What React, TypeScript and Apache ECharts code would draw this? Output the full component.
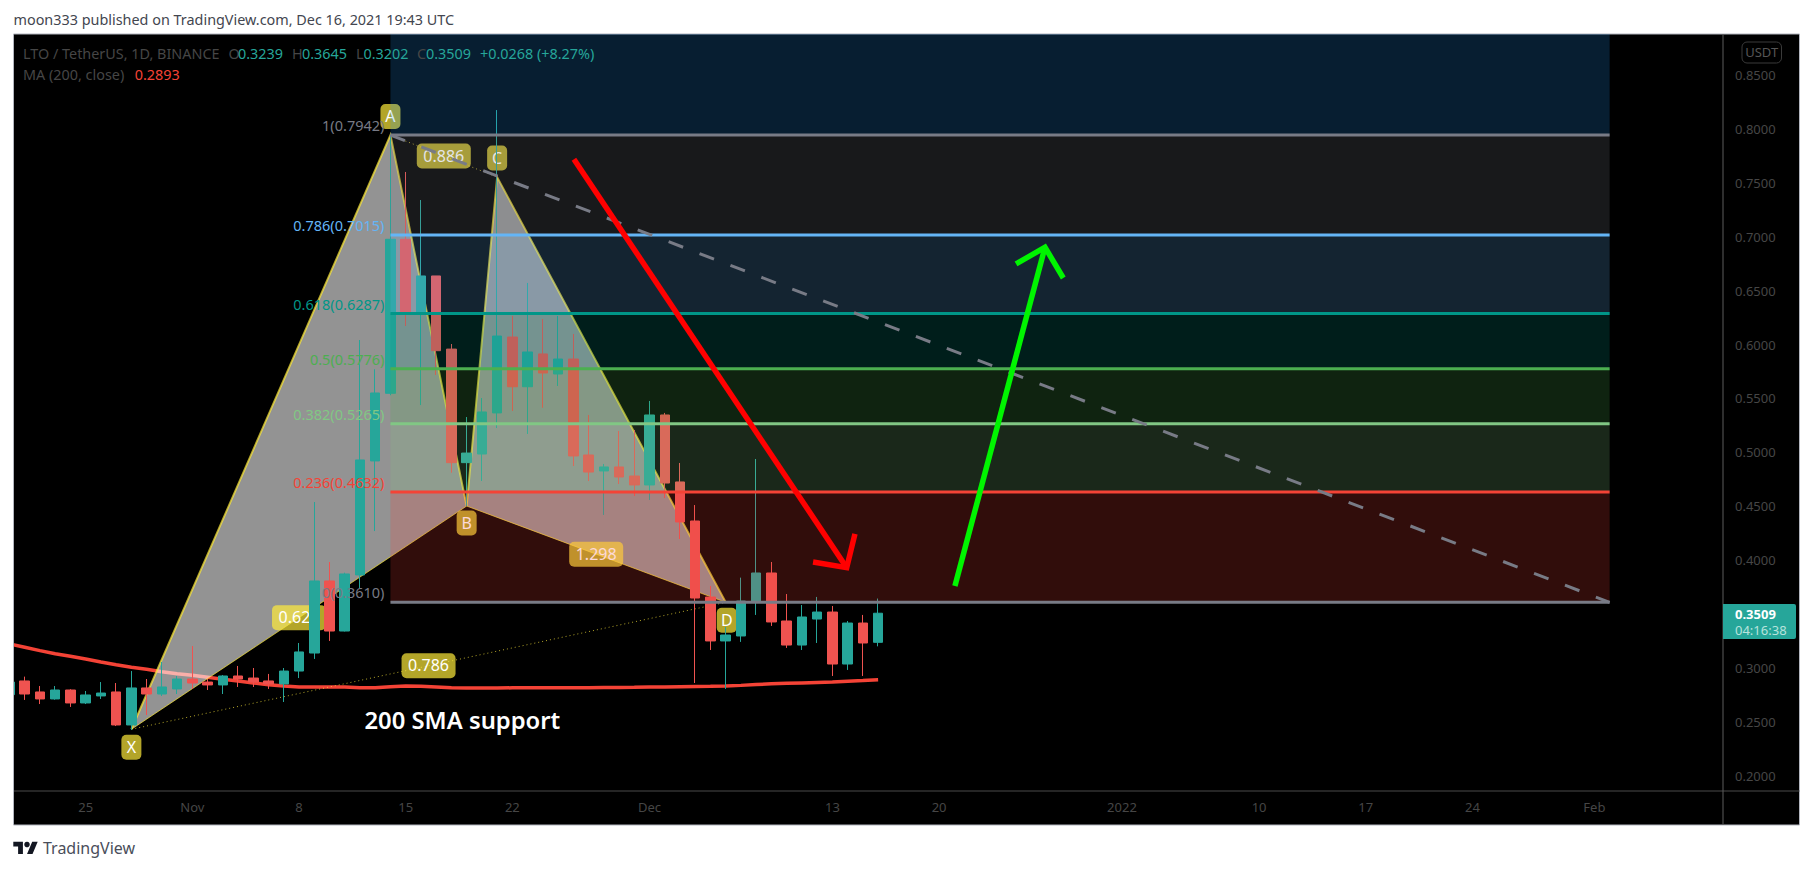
import React, { useEffect, useRef } from "react";
import * as echarts from "echarts";

// Day index 0 = 20 Oct 2021, one candle per day through 16 Dec 2021
const OPEN = [
  0.2754, 0.2881, 0.2779, 0.2714, 0.2797, 0.2677, 0.2742, 0.2779, 0.2473, 0.2816,
  0.2760, 0.2807, 0.2899, 0.2871, 0.2844, 0.2927, 0.2908, 0.2881, 0.2853, 0.2973,
  0.3140, 0.3808, 0.3344, 0.3864, 0.4921, 0.5548, 0.6976, 0.6290, 0.6636, 0.5958,
  0.4905, 0.4985, 0.5366, 0.6070, 0.5609, 0.5913, 0.5727, 0.5866, 0.4976, 0.4828,
  0.4865, 0.4781, 0.4698, 0.5347, 0.4726, 0.4364, 0.3659, 0.3252, 0.3298, 0.3613,
  0.3882, 0.3437, 0.3214, 0.3455, 0.3520, 0.3038, 0.3418, 0.3239,
];
const HIGH = [
  0.2908, 0.2921, 0.2834, 0.2834, 0.2804, 0.2788, 0.2871, 0.2862, 0.2973, 0.2899,
  0.3057, 0.2927, 0.3205, 0.2899, 0.2936, 0.3020, 0.3001, 0.2946, 0.3001, 0.3233,
  0.4540, 0.3984, 0.3885, 0.6042, 0.5771, 0.7943, 0.7600, 0.7340, 0.6636, 0.6005,
  0.5328, 0.5504, 0.8174, 0.6265, 0.6571, 0.6237, 0.6265, 0.6098, 0.5347, 0.4893,
  0.5199, 0.5208, 0.5477, 0.5366, 0.4902, 0.4512, 0.3762, 0.3381, 0.3839, 0.4939,
  0.3984, 0.3687, 0.3585, 0.3660, 0.3576, 0.3437, 0.3493, 0.3645,
];
const LOW = [
  0.2732, 0.2705, 0.2667, 0.2707, 0.2640, 0.2667, 0.2714, 0.2463, 0.2426, 0.2565,
  0.2742, 0.2760, 0.2807, 0.2797, 0.2760, 0.2825, 0.2825, 0.2807, 0.2686, 0.2908,
  0.3085, 0.3252, 0.3340, 0.3743, 0.4271, 0.5530, 0.6172, 0.5439, 0.5718, 0.4812,
  0.4503, 0.4735, 0.5226, 0.5384, 0.5171, 0.5414, 0.5616, 0.4874, 0.4735, 0.4420,
  0.4707, 0.4596, 0.4559, 0.4577, 0.4197, 0.2862, 0.3168, 0.2807, 0.3243, 0.3493,
  0.3391, 0.3187, 0.3168, 0.3233, 0.2927, 0.2983, 0.2927, 0.3202,
];
const CLOSE = [
  0.2871, 0.2760, 0.2714, 0.2797, 0.2677, 0.2751, 0.2769, 0.2473, 0.2816, 0.2760,
  0.2825, 0.2899, 0.2862, 0.2844, 0.2927, 0.2899, 0.2871, 0.2853, 0.2973, 0.3150,
  0.3808, 0.3344, 0.3873, 0.4930, 0.5551, 0.6976, 0.6290, 0.6636, 0.5943, 0.4905,
  0.4994, 0.5375, 0.6079, 0.5609, 0.5931, 0.5736, 0.5866, 0.4967, 0.4818, 0.4865,
  0.4772, 0.4698, 0.5347, 0.4716, 0.4355, 0.3650, 0.3252, 0.3307, 0.3622, 0.3882,
  0.3428, 0.3214, 0.3474, 0.3520, 0.3038, 0.3418, 0.3233, 0.3509,
];
const MA200 = [
  0.3224, 0.3193, 0.3162, 0.3134, 0.3110, 0.3085, 0.3057, 0.3032, 0.3008, 0.2989,
  0.2967, 0.2948, 0.2933, 0.2915, 0.2896, 0.2881, 0.2862, 0.2846, 0.2834, 0.2825,
  0.2825, 0.2825, 0.2825, 0.2818, 0.2818, 0.2828, 0.2834, 0.2831, 0.2825, 0.2818,
  0.2816, 0.2816, 0.2816, 0.2817, 0.2817, 0.2817, 0.2818, 0.2818, 0.2819, 0.2820,
  0.2821, 0.2822, 0.2824, 0.2825, 0.2827, 0.2829, 0.2831, 0.2834, 0.2840, 0.2848,
  0.2854, 0.2859, 0.2863, 0.2867, 0.2871, 0.2878, 0.2885, 0.2893,
];

const X_TICK_DAYS = [5, 12, 19, 26, 33, 42, 54, 61, 73, 82, 89, 96, 104];
const X_TICK_LABELS = ["25", "Nov", "8", "15", "22", "Dec", "13", "20", "2022", "10", "17", "24", "Feb"];
const Y_TICKS = [0.2, 0.25, 0.3, 0.4, 0.45, 0.5, 0.55, 0.6, 0.65, 0.7, 0.75, 0.8, 0.85];

const FIB_RATIOS = ["0", "0.236", "0.382", "0.5", "0.618", "0.786", "1"];
const FIB_PRICES = [0.361, 0.4632, 0.5265, 0.5776, 0.6287, 0.7015, 0.7942];
const FIB_TOP_PRICE = 1.0619;
const FIB_START_DAY = 25;
const FIB_END_DAY = 105;

const POINT_NAMES = ["X", "A", "B", "C", "D"];
const POINT_DAYS = [8, 25, 30, 32, 47];
const POINT_PRICES = [0.2433, 0.7942, 0.4503, 0.7553, 0.361];
const RATIO_LABELS = ["0.624", "0.886", "1.298", "0.786"];

const RED_ARROW = [[37.04, 0.7718], [54.94, 0.3931]];
const RED_HEAD = [[52.73, 0.3984], [54.94, 0.3931], [55.48, 0.4244]];
const GREEN_ARROW = [[62.04, 0.3761], [67.95, 0.6902]];
const GREEN_HEAD = [[66.05, 0.6747], [67.95, 0.6902], [69.15, 0.6617]];

const X_MIN = 0.265;
const X_MAX = 112.44;
const Y_MIN = 0.18607;
const Y_MAX = 0.88793;

const FONT = "'Noto Sans', sans-serif";
const UP = "#26a69a";
const DOWN = "#ef5350";
const GOLD = "rgba(255,235,59,0.7)";
const PATTERN_FILL = "rgba(255,255,255,0.575)";
const FIB_COLORS = ["#787b86", "#f44336", "#81c784", "#4caf50", "#009688", "#64b5f6", "#787b86"];
const FIB_FILLS = ["#f44336", "#81c784", "#4caf50", "#009688", "#64b5f6", "#787b86", "#2196f3"];
const TEXT_DIM = "#464646";

const LOGO_PATH = "M14 22H7V11H0V4h14v18zM28 22h-8l7.5-18h8L28 22z";

function pt(i: number) {
  return [POINT_DAYS[i], POINT_PRICES[i]];
}

function single(renderItem: any, z: number, name: string) {
  return {
    type: "custom",
    name,
    z,
    clip: true,
    silent: true,
    data: [[X_MIN, Y_MIN]],
    renderItem,
  };
}

function badge(cx: number, cy: number, w: number, text: string) {
  const h = 25;
  return [
    {
      type: "rect",
      shape: { x: cx - w / 2, y: cy - h / 2, width: w, height: h, r: 5 },
      style: { fill: GOLD },
    },
    {
      type: "text",
      style: {
        x: cx,
        y: cy - 0.5,
        text,
        fill: "#ffffff",
        font: `16px ${FONT}`,
        align: "center",
        verticalAlign: "middle",
      },
    },
  ];
}

const renderPattern = (_: any, api: any) => {
  const c = (v: number[]) => api.coord(v);
  const [X, A, B, C, D] = [0, 1, 2, 3, 4].map((i) => c(pt(i)));
  const children: any[] = [];
  children.push({ type: "polygon", shape: { points: [X, A, B] }, style: { fill: PATTERN_FILL } });
  children.push({ type: "polygon", shape: { points: [B, C, D] }, style: { fill: PATTERN_FILL } });
  children.push({
    type: "polyline",
    shape: { points: [X, A, B, C, D] },
    style: { stroke: GOLD, lineWidth: 2, fill: "none" },
  });
  children.push({ type: "line", shape: { x1: X[0], y1: X[1], x2: B[0], y2: B[1] }, style: { stroke: GOLD, lineWidth: 1 } });
  children.push({ type: "line", shape: { x1: B[0], y1: B[1], x2: D[0], y2: D[1] }, style: { stroke: GOLD, lineWidth: 1 } });
  children.push({ type: "line", shape: { x1: X[0], y1: X[1], x2: D[0], y2: D[1] }, style: { stroke: GOLD, lineWidth: 1, lineDash: [1, 3] } });
  children.push({ type: "line", shape: { x1: A[0], y1: A[1], x2: C[0], y2: C[1] }, style: { stroke: GOLD, lineWidth: 1, lineDash: [1, 3] } });
  const mid = (p: number[], q: number[]) => [(p[0] + q[0]) / 2, (p[1] + q[1]) / 2];
  const mXB = mid(X, B);
  const mAC = mid(A, C);
  const mBD = mid(B, D);
  const mXD = mid(X, D);
  children.push(...badge(mXB[0], mXB[1], 54, RATIO_LABELS[0]));
  children.push(...badge(mAC[0], mAC[1], 54, RATIO_LABELS[1]));
  children.push(...badge(mBD[0], mBD[1], 54, RATIO_LABELS[2]));
  children.push(...badge(mXD[0], mXD[1], 54, RATIO_LABELS[3]));
  children.push(...badge(X[0], X[1] + 18, 20, POINT_NAMES[0]));
  children.push(...badge(A[0], A[1] - 18.6, 20, POINT_NAMES[1]));
  children.push(...badge(B[0], B[1] + 17, 20, POINT_NAMES[2]));
  children.push(...badge(C[0], C[1] - 19, 20, POINT_NAMES[3]));
  children.push(...badge(D[0] + 1, D[1] + 18, 20, POINT_NAMES[4]));
  return { type: "group", children };
};

const renderFibZones = (_: any, api: any) => {
  const children: any[] = [];
  const tops = [...FIB_PRICES.slice(1), FIB_TOP_PRICE];
  FIB_PRICES.forEach((low, i) => {
    const a = api.coord([FIB_START_DAY, tops[i]]);
    const b = api.coord([FIB_END_DAY, low]);
    children.push({
      type: "rect",
      shape: { x: a[0], y: a[1], width: b[0] - a[0], height: b[1] - a[1] },
      style: { fill: FIB_FILLS[i], opacity: 0.2 },
    });
  });
  return { type: "group", children };
};

const renderFibLines = (_: any, api: any) => {
  const children: any[] = [];
  FIB_PRICES.forEach((p, i) => {
    const a = api.coord([FIB_START_DAY, p]);
    const b = api.coord([FIB_END_DAY, p]);
    children.push({
      type: "line",
      shape: { x1: a[0], y1: a[1], x2: b[0], y2: b[1] },
      style: { stroke: FIB_COLORS[i], lineWidth: 3 },
    });
    children.push({
      type: "text",
      style: {
        x: a[0] - 6,
        y: a[1] - 10,
        text: `${FIB_RATIOS[i]}(${p.toFixed(4)})`,
        fill: FIB_COLORS[i],
        font: `14.5px ${FONT}`,
        align: "right",
        verticalAlign: "middle",
      },
    });
  });
  const s = api.coord(pt(1));
  const e = api.coord([FIB_END_DAY, FIB_PRICES[0]]);
  children.push({
    type: "line",
    shape: { x1: s[0], y1: s[1], x2: e[0], y2: e[1] },
    style: { stroke: "#787b86", lineWidth: 3, lineDash: [15.5, 17.6] },
  });
  return { type: "group", children };
};

const renderArrows = (_: any, api: any) => {
  const line = (pts: number[][], stroke: string) => ({
    type: "polyline",
    shape: { points: pts.map((p) => api.coord(p)) },
    style: { stroke, lineWidth: 5.5, fill: "none", lineJoin: "miter" },
  });
  return {
    type: "group",
    children: [
      line(RED_ARROW, "#ff0000"),
      line(RED_HEAD, "#ff0000"),
      line(GREEN_ARROW, "#00f500"),
      line(GREEN_HEAD, "#00f500"),
    ],
  };
};

function txt(x: number, y: number, text: string, fill: string, font: string, align = "left", z = 20) {
  return { type: "text", x, y, z, silent: true, style: { text, fill, font, align, verticalAlign: "middle" } };
}

function buildOption() {
  const dataCandle = OPEN.map((o, i) => [i, o, CLOSE[i], LOW[i], HIGH[i]]);
  const dataMa = MA200.map((v, i) => [i, v]);
  const legendFont = `14.4px ${FONT}`;
  const axisFont = `13px ${FONT}`;
  return {
    animation: false,
    backgroundColor: "#ffffff",
    grid: { left: 13.5, top: 34, width: 1709.5, height: 757, containLabel: false },
    xAxis: {
      type: "value",
      min: X_MIN,
      max: X_MAX,
      scale: true,
      axisLine: { show: false },
      axisTick: { show: false },
      splitLine: { show: false },
      axisLabel: {
        customValues: X_TICK_DAYS,
        formatter: (v: number) => X_TICK_LABELS[X_TICK_DAYS.indexOf(v)] ?? "",
        color: TEXT_DIM,
        fontFamily: FONT,
        fontSize: 13,
        margin: 9,
        hideOverlap: false,
      },
    },
    yAxis: {
      type: "value",
      position: "right",
      min: Y_MIN,
      max: Y_MAX,
      scale: true,
      axisLine: { show: false },
      axisTick: { show: false },
      splitLine: { show: false },
      axisLabel: {
        customValues: Y_TICKS,
        formatter: (v: number) => v.toFixed(4),
        color: TEXT_DIM,
        fontFamily: FONT,
        fontSize: 13,
        margin: 12,
        align: "left",
        padding: [0, 0, 2, 0],
        hideOverlap: false,
      },
    },
    graphic: {
      elements: [
        { type: "rect", z: -5, silent: true, shape: { x: 13.5, y: 34, width: 1786, height: 791 }, style: { fill: "#000000", stroke: "#b2b5be", lineWidth: 1 } },
        { type: "rect", z: 15, silent: true, shape: { x: 0, y: 34, width: 13, height: 791 }, style: { fill: "#ffffff" } },
        { type: "line", z: 16, silent: true, shape: { x1: 13.5, y1: 34, x2: 13.5, y2: 825 }, style: { stroke: "#b2b5be", lineWidth: 1 } },
        { type: "line", z: 1, silent: true, shape: { x1: 13.5, y1: 791, x2: 1799.5, y2: 791 }, style: { stroke: "#4a4a4a", lineWidth: 1 } },
        { type: "line", z: 1, silent: true, shape: { x1: 1723, y1: 34, x2: 1723, y2: 825 }, style: { stroke: "#5d5d5d", lineWidth: 1 } },
        txt(13.5, 19, "moon333 published on TradingView.com, Dec 16, 2021 19:43 UTC", "#43464f", legendFont),
        txt(23, 53, "LTO / TetherUS, 1D, BINANCE", TEXT_DIM, legendFont),
        txt(228.5, 53, "O", TEXT_DIM, legendFont),
        txt(238, 53, "0.3239", UP, legendFont),
        txt(292, 53, "H", TEXT_DIM, legendFont),
        txt(302, 53, "0.3645", UP, legendFont),
        txt(356, 53, "L", TEXT_DIM, legendFont),
        txt(363.5, 53, "0.3202", UP, legendFont),
        txt(417, 53, "C", TEXT_DIM, legendFont),
        txt(426, 53, "0.3509", UP, legendFont),
        txt(480, 53, "+0.0268 (+8.27%)", UP, legendFont),
        txt(23, 74, "MA (200, close)", TEXT_DIM, legendFont),
        txt(134.7, 74, "0.2893", "#f44336", legendFont),
        { type: "rect", z: 20, silent: true, shape: { x: 1742, y: 42, width: 39.5, height: 21, r: 5 }, style: { fill: "#000000", stroke: "#3a3a3a", lineWidth: 1 } },
        txt(1761.7, 52, "USDT", "#565656", axisFont, "center"),
        { type: "rect", z: 20, silent: true, shape: { x: 1723, y: 604, width: 73, height: 35, r: [0, 2, 2, 0] }, style: { fill: UP } },
        txt(1735, 613.5, "0.3509", "#ffffff", `700 13px ${FONT}`),
        txt(1735, 629.5, "04:16:38", "#b8e3dd", axisFont),
        txt(364.5, 719.5, "200 SMA support", "#ffffff", `600 23.8px ${FONT}`),
        { type: "logo", z: 20, silent: true, x: 13.3, y: 839, scaleX: 0.687, scaleY: 0.687, style: { fill: "#131722" } },
        { type: "circle", z: 20, silent: true, shape: { cx: 27, cy: 844.5, r: 2.75 }, style: { fill: "#131722" } },
        txt(43, 847.5, "TradingView", "#4a4e5a", `16px ${FONT}`),
      ],
    },
    series: [
      {
        type: "line",
        name: "MA (200, close)",
        z: 1,
        data: dataMa,
        symbol: "none",
        clip: true,
        silent: true,
        lineStyle: { color: "#f44336", width: 3.5 },
      },
      single(renderPattern, 2, "XABCD pattern"),
      {
        type: "candlestick",
        name: "LTO / TetherUS",
        z: 3,
        data: dataCandle,
        encode: { x: 0, y: [1, 2, 3, 4] },
        barWidth: 10,
        clip: true,
        silent: true,
        itemStyle: {
          color: UP,
          color0: DOWN,
          borderColor: UP,
          borderColor0: DOWN,
          borderWidth: 1,
        },
      },
      single(renderFibZones, 4, "Fib zones"),
      single(renderFibLines, 5, "Fib levels"),
      single(renderArrows, 6, "Arrows"),
    ],
  };
}

export default function App() {
  const ref = useRef<HTMLDivElement | null>(null);
  useEffect(() => {
    document.body.style.margin = "0";
    document.body.style.overflow = "hidden";
    echarts.graphic.registerShape("logo", echarts.graphic.extendPath(LOGO_PATH, {}));
    const chart = echarts.init(ref.current!, undefined, { renderer: "svg" });
    chart.setOption(buildOption() as any);
    return () => chart.dispose();
  }, []);
  return <div ref={ref} style={{ position: "absolute", left: 0, top: 0, width: 1813, height: 870 }} />;
}
